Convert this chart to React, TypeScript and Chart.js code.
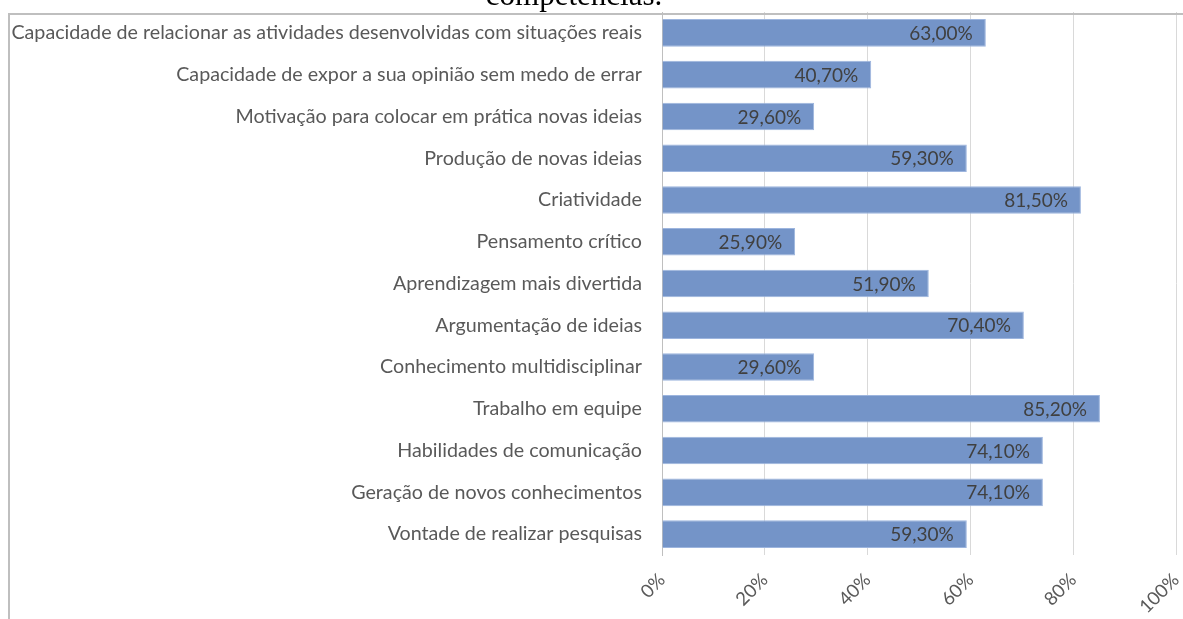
import React, { useEffect, useRef } from "react";
import { Chart, registerables } from "chart.js";

Chart.register(...registerables);

const titleText = "competências.";

const categories = [
  "Capacidade de relacionar as atividades desenvolvidas com situações reais",
  "Capacidade de expor a sua opinião sem medo de errar",
  "Motivação para colocar em prática novas ideias",
  "Produção de novas ideias",
  "Criatividade",
  "Pensamento crítico",
  "Aprendizagem mais divertida",
  "Argumentação de ideias",
  "Conhecimento multidisciplinar",
  "Trabalho em equipe",
  "Habilidades de comunicação",
  "Geração de novos conhecimentos",
  "Vontade de realizar pesquisas",
];

const values = [63.0, 40.7, 29.6, 59.3, 81.5, 25.9, 51.9, 70.4, 29.6, 85.2, 74.1, 74.1, 59.3];

const xTicks = [0, 20, 40, 60, 80, 100];

const FONT = "Lato";

function formatPct(v: number) {
  return v.toFixed(2).replace(".", ",") + "%";
}

const framePlugin = {
  id: "frameAndTitle",
  afterDraw(chart: any) {
    const ctx = chart.ctx;
    ctx.save();
    ctx.fillStyle = "#bfbfbf";
    ctx.fillRect(8, 13, chart.width - 8, 2);
    ctx.fillRect(8, 13, 2, chart.height - 13);
    ctx.fillStyle = "#000000";
    ctx.font = '31px "Liberation Serif"';
    ctx.textAlign = "center";
    ctx.textBaseline = "alphabetic";
    ctx.fillText(titleText, 574, 5);
    ctx.restore();
  },
};

const dataLabelPlugin = {
  id: "barValueLabels",
  afterDatasetsDraw(chart: any) {
    const ctx = chart.ctx;
    ctx.save();
    ctx.font = `19px ${FONT}`;
    ctx.fillStyle = "#404040";
    ctx.textAlign = "right";
    ctx.textBaseline = "middle";
    chart.data.datasets.forEach((ds: any, di: number) => {
      const meta = chart.getDatasetMeta(di);
      meta.data.forEach((bar: any, i: number) => {
        ctx.fillText(formatPct(ds.data[i]), bar.x - 13, bar.y + 1);
      });
    });
    ctx.restore();
  },
};

export default function App() {
  const ref = useRef<HTMLCanvasElement | null>(null);

  useEffect(() => {
    if (!ref.current) return;
    const chart = new Chart(ref.current, {
      type: "bar",
      data: {
        labels: categories,
        datasets: [
          {
            data: values,
            backgroundColor: "#7494c8",
            borderColor: "#9db5de",
            borderWidth: 1,
            barPercentage: 0.66,
            categoryPercentage: 1,
          },
        ],
      },
      options: {
        indexAxis: "y",
        animation: false,
        responsive: false,
        maintainAspectRatio: false,
        layout: { padding: { top: 12, right: 7, bottom: 0, left: 0 } },
        plugins: {
          legend: { display: false },
          tooltip: { enabled: false },
          title: { display: false },
        },
        scales: {
          x: {
            min: 0,
            max: 100,
            afterBuildTicks(scale: any) {
              scale.ticks = xTicks.map((v) => ({ value: v }));
            },
            afterFit(scale: any) {
              scale.height = 64;
              scale.paddingLeft = 0;
              scale.paddingRight = 0;
            },
            grid: { color: "#d9d9d9", drawTicks: false },
            border: { display: false },
            ticks: {
              minRotation: 45,
              maxRotation: 45,
              padding: 14,
              color: "#595959",
              font: { family: FONT, size: 18.5 },
              callback: (v: any) => v + "%",
            },
          },
          y: {
            afterFit(scale: any) {
              scale.width = 662;
              scale.paddingTop = 0;
              scale.paddingBottom = 0;
            },
            grid: { display: false, drawTicks: false },
            border: { display: true, color: "#bfbfbf", width: 1 },
            ticks: {
              padding: 20,
              color: "#595959",
              font: { family: FONT, size: 19.7 },
              autoSkip: false,
            },
          },
        },
      },
      plugins: [dataLabelPlugin, framePlugin],
    });
    return () => chart.destroy();
  }, []);

  return (
    <div style={{ position: "fixed", left: 0, top: 0, width: 1183, height: 619, background: "#fff" }}>
      <canvas ref={ref} width={1183} height={619} style={{ display: "block" }} />
    </div>
  );
}
